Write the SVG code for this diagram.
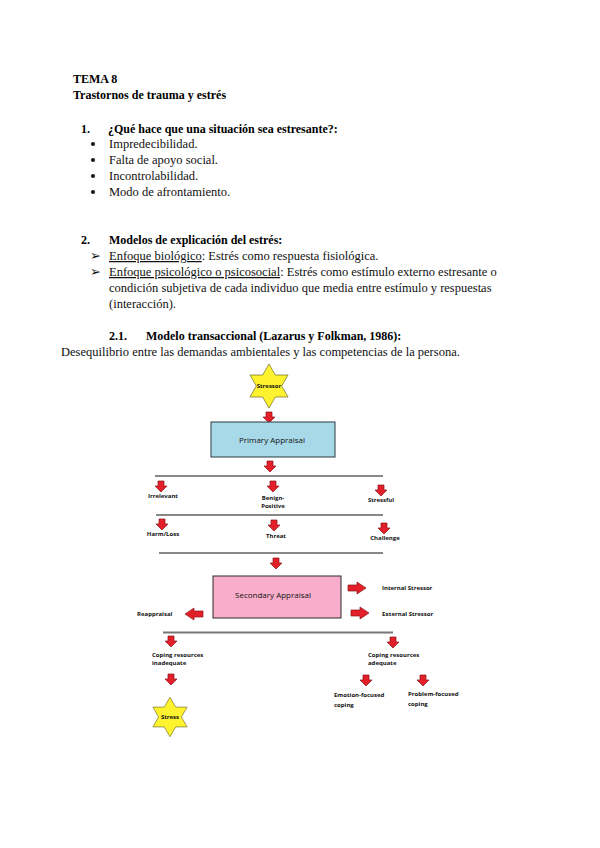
<svg xmlns="http://www.w3.org/2000/svg" xmlns:xlink="http://www.w3.org/1999/xlink" width="600" height="848" viewBox="0 0 600 848">
<style>
  .doc { font-family: "Liberation Serif", "Times New Roman", serif; font-size: 12.5px; fill: #111; }
  .docb { font-family: "Liberation Serif", "Times New Roman", serif; font-size: 12px; font-weight: bold; fill: #000; }
  .lbl { font-family: "Open Sans", "Liberation Sans", sans-serif; font-size: 6px; font-weight: bold; fill: #111; }
  .box-t { font-family: "Open Sans", "Liberation Sans", sans-serif; font-size: 8px; fill: #111; text-anchor: middle; }
  .arrow { fill: #E3202A; stroke: #8A1418; stroke-width: 0.7; }
  .rule { stroke: #111; stroke-width: 1; }
  .star { fill: #FFF22E; stroke: #6B6B2A; stroke-width: 0.7; }
</style>
<defs>
  <path id="ad" class="arrow" d="M-3,0 H3 V5 H6 L0,11 L-6,5 H-3 Z"/>
  <path id="ar" class="arrow" d="M0,-3 H9 V-6 L18,0 L9,6 V3 H0 Z"/>
  <path id="al" class="arrow" d="M0,-3 H-9 V-6 L-18,0 L-9,6 V3 H0 Z"/>
  <path id="star" class="star" d="M0,-22 L6.35,-11 L19.05,-11 L12.7,0 L19.05,11 L6.35,11 L0,22 L-6.35,11 L-19.05,11 L-12.7,0 L-19.05,-11 L-6.35,-11 Z"/>
</defs>
<rect width="600" height="848" fill="#fff"/>

<g id="document-text">
  <text class="docb" x="73" y="83">TEMA 8</text>
  <text class="docb" x="73" y="99">Trastornos de trauma y estrés</text>
  <text class="docb" x="81" y="133">1.</text>
  <text class="docb" x="108" y="133">¿Qué hace que una situación sea estresante?:</text>
  <circle cx="93" cy="144" r="2" fill="#111"/>
  <text class="doc" x="109" y="148">Impredecibilidad.</text>
  <circle cx="93" cy="160" r="2" fill="#111"/>
  <text class="doc" x="109" y="164">Falta de apoyo social.</text>
  <circle cx="93" cy="176" r="2" fill="#111"/>
  <text class="doc" x="109" y="180">Incontrolabilidad.</text>
  <circle cx="93" cy="192" r="2" fill="#111"/>
  <text class="doc" x="109" y="196">Modo de afrontamiento.</text>
  <text class="docb" x="81" y="244">2.</text>
  <text class="docb" x="109" y="244">Modelos de explicación del estrés:</text>
  <text class="doc" x="90" y="260">➢</text>
  <text class="doc" x="109" y="260"><tspan text-decoration="underline">Enfoque biológico</tspan>: Estrés como respuesta fisiológica.</text>
  <text class="doc" x="90" y="276">➢</text>
  <text class="doc" x="109" y="276"><tspan text-decoration="underline">Enfoque psicológico o psicosocial</tspan>: Estrés como estímulo externo estresante o</text>
  <text class="doc" x="109" y="292">condición subjetiva de cada individuo que media entre estímulo y respuestas</text>
  <text class="doc" x="109" y="308">(interacción).</text>
  <text class="docb" x="109" y="340">2.1.</text>
  <text class="docb" x="146" y="340">Modelo transaccional (Lazarus y Folkman, 1986):</text>
  <text class="doc" x="61" y="356">Desequilibrio entre las demandas ambientales y las competencias de la persona.</text>
</g>

<g id="connectors">
  <line class="rule" x1="155" y1="476" x2="383" y2="476"/>
  <line class="rule" x1="156" y1="515" x2="383" y2="515"/>
  <line class="rule" x1="159" y1="553" x2="383" y2="553"/>
  <line x1="163" y1="632.5" x2="393" y2="632.5" stroke="#777" stroke-width="2"/>
  <use href="#ad" x="269" y="412"/>
  <use href="#ad" x="270" y="461"/>
  <use href="#ad" x="161" y="481"/>
  <use href="#ad" x="273" y="481"/>
  <use href="#ad" x="381" y="485"/>
  <use href="#ad" x="162" y="519"/>
  <use href="#ad" x="274" y="520"/>
  <use href="#ad" x="384" y="523"/>
  <use href="#ad" x="276" y="558"/>
  <use href="#ar" x="348" y="588"/>
  <use href="#ar" x="351" y="613"/>
  <use href="#al" x="203" y="614"/>
  <use href="#ad" x="171" y="636"/>
  <use href="#ad" x="171" y="674"/>
  <use href="#ad" x="393" y="637"/>
  <use href="#ad" x="366" y="675"/>
  <use href="#ad" x="423" y="675"/>
</g>

<g id="stressor">
  <use href="#star" x="269" y="386"/>
  <text class="lbl" x="269" y="388" text-anchor="middle" font-size="5">Stressor</text>
</g>
<g id="primary-appraisal">
  <rect x="211" y="422" width="124" height="35" fill="#A8D9E8" stroke="#2B3A40" stroke-width="1"/>
  <text class="box-t" x="272" y="443">Primary Appraisal</text>
</g>
<g id="irrelevant"><text class="lbl" x="163" y="498" text-anchor="middle">Irrelevant</text></g>
<g id="benign-positive"><text class="lbl" x="273" y="500" text-anchor="middle">Benign-</text><text class="lbl" x="273" y="508" text-anchor="middle">Positive</text></g>
<g id="stressful"><text class="lbl" x="381" y="502" text-anchor="middle">Stressful</text></g>
<g id="harm-loss"><text class="lbl" x="163" y="536" text-anchor="middle">Harm/Loss</text></g>
<g id="threat"><text class="lbl" x="276" y="538" text-anchor="middle">Threat</text></g>
<g id="challenge"><text class="lbl" x="385" y="540" text-anchor="middle">Challenge</text></g>
<g id="secondary-appraisal">
  <rect x="213" y="576" width="128" height="42" fill="#F8AECB" stroke="#2B2B2B" stroke-width="1"/>
  <text class="box-t" x="273" y="598" font-size="8.5">Secondary Appraisal</text>
</g>
<g id="internal-stressor"><text class="lbl" x="382" y="590">Internal Stressor</text></g>
<g id="external-stressor"><text class="lbl" x="382" y="616">External Stressor</text></g>
<g id="reappraisal"><text class="lbl" x="137" y="616">Reappraisal</text></g>
<g id="coping-inadequate"><text class="lbl" x="152" y="657">Coping resources</text><text class="lbl" x="152" y="665">inadequate</text></g>
<g id="stress">
  <use href="#star" transform="translate(170,717) scale(0.9)"/>
  <text class="lbl" x="170" y="719" text-anchor="middle" font-size="5.5">Stress</text>
</g>
<g id="coping-adequate"><text class="lbl" x="368" y="657">Coping resources</text><text class="lbl" x="368" y="665">adequate</text></g>
<g id="emotion-focused"><text class="lbl" x="334" y="697">Emotion-focused</text><text class="lbl" x="334" y="707">coping</text></g>
<g id="problem-focused"><text class="lbl" x="408" y="696">Problem-focused</text><text class="lbl" x="408" y="706">coping</text></g>
</svg>
